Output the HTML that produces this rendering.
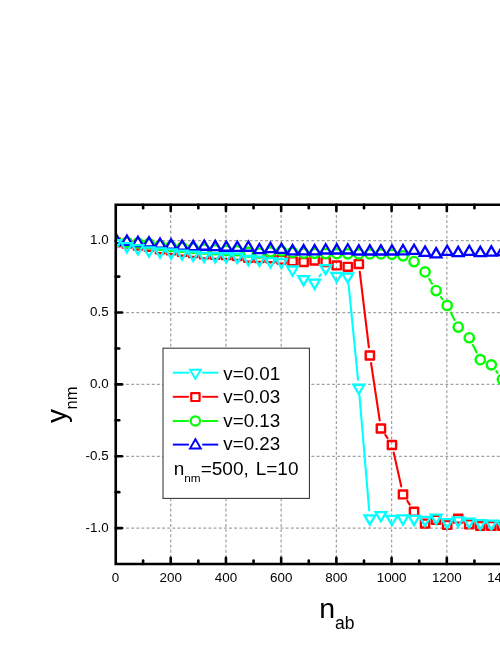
<!DOCTYPE html>
<html><head><meta charset="utf-8"><title>chart</title>
<style>html,body{margin:0;padding:0;background:#fff;}body{width:500px;height:647px;position:relative;overflow:hidden;font-family:"Liberation Sans",sans-serif;}</style></head>
<body>
<svg width="500" height="647" viewBox="0 0 500 647" style="position:absolute;left:0;top:0">
<rect width="500" height="647" fill="#fff"/>
<g stroke="#a2a2a2" stroke-width="1.25" stroke-dasharray="2.9 2.25"><line x1="170.72" y1="204.77" x2="170.72" y2="564.02"/><line x1="225.94" y1="204.77" x2="225.94" y2="564.02"/><line x1="281.16" y1="204.77" x2="281.16" y2="564.02"/><line x1="336.38" y1="204.77" x2="336.38" y2="564.02"/><line x1="391.60" y1="204.77" x2="391.60" y2="564.02"/><line x1="446.82" y1="204.77" x2="446.82" y2="564.02"/><line x1="502.04" y1="204.77" x2="502.04" y2="564.02"/><line x1="115.75" y1="240.70" x2="505" y2="240.70"/><line x1="115.75" y1="312.55" x2="505" y2="312.55"/><line x1="115.75" y1="384.40" x2="505" y2="384.40"/><line x1="115.75" y1="456.25" x2="505" y2="456.25"/><line x1="115.75" y1="528.10" x2="505" y2="528.10"/></g>
<g stroke="#000" stroke-width="2.6" fill="none" stroke-linecap="round">
<path d="M505 204.77H115.75V564.02H505" stroke-linejoin="miter" stroke-linecap="butt"/>
<line x1="143.11" y1="564.02" x2="143.11" y2="560.52"/>
<line x1="143.11" y1="204.77" x2="143.11" y2="208.27"/>
<line x1="170.72" y1="564.02" x2="170.72" y2="557.73"/>
<line x1="170.72" y1="204.77" x2="170.72" y2="211.07"/>
<line x1="198.33" y1="564.02" x2="198.33" y2="560.52"/>
<line x1="198.33" y1="204.77" x2="198.33" y2="208.27"/>
<line x1="225.94" y1="564.02" x2="225.94" y2="557.73"/>
<line x1="225.94" y1="204.77" x2="225.94" y2="211.07"/>
<line x1="253.55" y1="564.02" x2="253.55" y2="560.52"/>
<line x1="253.55" y1="204.77" x2="253.55" y2="208.27"/>
<line x1="281.16" y1="564.02" x2="281.16" y2="557.73"/>
<line x1="281.16" y1="204.77" x2="281.16" y2="211.07"/>
<line x1="308.77" y1="564.02" x2="308.77" y2="560.52"/>
<line x1="308.77" y1="204.77" x2="308.77" y2="208.27"/>
<line x1="336.38" y1="564.02" x2="336.38" y2="557.73"/>
<line x1="336.38" y1="204.77" x2="336.38" y2="211.07"/>
<line x1="363.99" y1="564.02" x2="363.99" y2="560.52"/>
<line x1="363.99" y1="204.77" x2="363.99" y2="208.27"/>
<line x1="391.60" y1="564.02" x2="391.60" y2="557.73"/>
<line x1="391.60" y1="204.77" x2="391.60" y2="211.07"/>
<line x1="419.21" y1="564.02" x2="419.21" y2="560.52"/>
<line x1="419.21" y1="204.77" x2="419.21" y2="208.27"/>
<line x1="446.82" y1="564.02" x2="446.82" y2="557.73"/>
<line x1="446.82" y1="204.77" x2="446.82" y2="211.07"/>
<line x1="474.43" y1="564.02" x2="474.43" y2="560.52"/>
<line x1="474.43" y1="204.77" x2="474.43" y2="208.27"/>
<line x1="502.04" y1="564.02" x2="502.04" y2="557.73"/>
<line x1="502.04" y1="204.77" x2="502.04" y2="211.07"/>
<line x1="115.75" y1="528.10" x2="122.05" y2="528.10"/>
<line x1="115.75" y1="492.17" x2="119.25" y2="492.17"/>
<line x1="115.75" y1="456.25" x2="122.05" y2="456.25"/>
<line x1="115.75" y1="420.32" x2="119.25" y2="420.32"/>
<line x1="115.75" y1="384.40" x2="122.05" y2="384.40"/>
<line x1="115.75" y1="348.47" x2="119.25" y2="348.47"/>
<line x1="115.75" y1="312.55" x2="122.05" y2="312.55"/>
<line x1="115.75" y1="276.62" x2="119.25" y2="276.62"/>
<line x1="115.75" y1="240.70" x2="122.05" y2="240.70"/>
</g>
<clipPath id="c"><rect x="117.0" y="204.77" width="500" height="359.25"/></clipPath>
<g clip-path="url(#c)" stroke-linejoin="miter">
<line x1="359.78" y1="271.78" x2="368.90" y2="347.29" stroke="#ff0000" stroke-width="2.1" stroke-linecap="round"/>
<line x1="371.06" y1="363.14" x2="379.71" y2="420.32" stroke="#ff0000" stroke-width="2.1" stroke-linecap="round"/>
<line x1="385.35" y1="434.88" x2="387.50" y2="438.10" stroke="#ff0000" stroke-width="2.1" stroke-linecap="round"/>
<line x1="393.69" y1="452.56" x2="401.25" y2="486.38" stroke="#ff0000" stroke-width="2.1" stroke-linecap="round"/>
<line x1="407.31" y1="500.92" x2="409.72" y2="504.69" stroke="#ff0000" stroke-width="2.1" stroke-linecap="round"/>
<rect x="111.70" y="238.44" width="8.3" height="7.9" fill="none" stroke="#ff0000" stroke-width="2.4" stroke-linejoin="round"/>
<rect x="122.74" y="239.73" width="8.3" height="7.9" fill="none" stroke="#ff0000" stroke-width="2.4" stroke-linejoin="round"/>
<rect x="133.79" y="241.60" width="8.3" height="7.9" fill="none" stroke="#ff0000" stroke-width="2.4" stroke-linejoin="round"/>
<rect x="144.83" y="242.89" width="8.3" height="7.9" fill="none" stroke="#ff0000" stroke-width="2.4" stroke-linejoin="round"/>
<rect x="155.88" y="245.41" width="8.3" height="7.9" fill="none" stroke="#ff0000" stroke-width="2.4" stroke-linejoin="round"/>
<rect x="166.92" y="246.34" width="8.3" height="7.9" fill="none" stroke="#ff0000" stroke-width="2.4" stroke-linejoin="round"/>
<rect x="177.96" y="247.78" width="8.3" height="7.9" fill="none" stroke="#ff0000" stroke-width="2.4" stroke-linejoin="round"/>
<rect x="189.01" y="249.07" width="8.3" height="7.9" fill="none" stroke="#ff0000" stroke-width="2.4" stroke-linejoin="round"/>
<rect x="200.05" y="250.51" width="8.3" height="7.9" fill="none" stroke="#ff0000" stroke-width="2.4" stroke-linejoin="round"/>
<rect x="211.10" y="250.94" width="8.3" height="7.9" fill="none" stroke="#ff0000" stroke-width="2.4" stroke-linejoin="round"/>
<rect x="222.14" y="251.23" width="8.3" height="7.9" fill="none" stroke="#ff0000" stroke-width="2.4" stroke-linejoin="round"/>
<rect x="233.18" y="252.09" width="8.3" height="7.9" fill="none" stroke="#ff0000" stroke-width="2.4" stroke-linejoin="round"/>
<rect x="244.23" y="253.81" width="8.3" height="7.9" fill="none" stroke="#ff0000" stroke-width="2.4" stroke-linejoin="round"/>
<rect x="255.27" y="254.10" width="8.3" height="7.9" fill="none" stroke="#ff0000" stroke-width="2.4" stroke-linejoin="round"/>
<rect x="266.32" y="254.39" width="8.3" height="7.9" fill="none" stroke="#ff0000" stroke-width="2.4" stroke-linejoin="round"/>
<rect x="277.36" y="255.68" width="8.3" height="7.9" fill="none" stroke="#ff0000" stroke-width="2.4" stroke-linejoin="round"/>
<rect x="288.40" y="257.41" width="8.3" height="7.9" fill="none" stroke="#ff0000" stroke-width="2.4" stroke-linejoin="round"/>
<rect x="299.45" y="258.12" width="8.3" height="7.9" fill="none" stroke="#ff0000" stroke-width="2.4" stroke-linejoin="round"/>
<rect x="310.49" y="256.54" width="8.3" height="7.9" fill="none" stroke="#ff0000" stroke-width="2.4" stroke-linejoin="round"/>
<rect x="321.54" y="258.12" width="8.3" height="7.9" fill="none" stroke="#ff0000" stroke-width="2.4" stroke-linejoin="round"/>
<rect x="332.58" y="261.43" width="8.3" height="7.9" fill="none" stroke="#ff0000" stroke-width="2.4" stroke-linejoin="round"/>
<rect x="343.62" y="262.87" width="8.3" height="7.9" fill="none" stroke="#ff0000" stroke-width="2.4" stroke-linejoin="round"/>
<rect x="354.67" y="260.14" width="8.3" height="7.9" fill="none" stroke="#ff0000" stroke-width="2.4" stroke-linejoin="round"/>
<rect x="365.71" y="351.53" width="8.3" height="7.9" fill="none" stroke="#ff0000" stroke-width="2.4" stroke-linejoin="round"/>
<rect x="376.76" y="424.53" width="8.3" height="7.9" fill="none" stroke="#ff0000" stroke-width="2.4" stroke-linejoin="round"/>
<rect x="387.80" y="441.05" width="8.3" height="7.9" fill="none" stroke="#ff0000" stroke-width="2.4" stroke-linejoin="round"/>
<rect x="398.84" y="490.49" width="8.3" height="7.9" fill="none" stroke="#ff0000" stroke-width="2.4" stroke-linejoin="round"/>
<rect x="409.89" y="507.73" width="8.3" height="7.9" fill="none" stroke="#ff0000" stroke-width="2.4" stroke-linejoin="round"/>
<rect x="420.93" y="519.66" width="8.3" height="7.9" fill="none" stroke="#ff0000" stroke-width="2.4" stroke-linejoin="round"/>
<rect x="431.98" y="515.92" width="8.3" height="7.9" fill="none" stroke="#ff0000" stroke-width="2.4" stroke-linejoin="round"/>
<rect x="443.02" y="520.95" width="8.3" height="7.9" fill="none" stroke="#ff0000" stroke-width="2.4" stroke-linejoin="round"/>
<rect x="454.06" y="514.77" width="8.3" height="7.9" fill="none" stroke="#ff0000" stroke-width="2.4" stroke-linejoin="round"/>
<rect x="465.11" y="520.38" width="8.3" height="7.9" fill="none" stroke="#ff0000" stroke-width="2.4" stroke-linejoin="round"/>
<rect x="476.15" y="521.96" width="8.3" height="7.9" fill="none" stroke="#ff0000" stroke-width="2.4" stroke-linejoin="round"/>
<rect x="487.20" y="521.96" width="8.3" height="7.9" fill="none" stroke="#ff0000" stroke-width="2.4" stroke-linejoin="round"/>
<rect x="498.24" y="521.96" width="8.3" height="7.9" fill="none" stroke="#ff0000" stroke-width="2.4" stroke-linejoin="round"/>
<line x1="429.16" y1="278.83" x2="432.04" y2="283.68" stroke="#00ff00" stroke-width="2.1" stroke-linecap="round"/>
<line x1="440.88" y1="297.00" x2="442.42" y2="299.07" stroke="#00ff00" stroke-width="2.1" stroke-linecap="round"/>
<line x1="450.82" y1="312.63" x2="454.57" y2="319.94" stroke="#00ff00" stroke-width="2.1" stroke-linecap="round"/>
<line x1="472.86" y1="344.91" x2="476.70" y2="352.54" stroke="#00ff00" stroke-width="2.1" stroke-linecap="round"/>
<line x1="496.19" y1="371.22" x2="497.55" y2="373.00" stroke="#00ff00" stroke-width="2.1" stroke-linecap="round"/>
<circle cx="115.85" cy="241.42" r="4.65" fill="#fff" stroke="#00ff00" stroke-width="2.4"/>
<circle cx="126.89" cy="242.28" r="4.65" fill="#fff" stroke="#00ff00" stroke-width="2.4"/>
<circle cx="137.94" cy="243.00" r="4.65" fill="#fff" stroke="#00ff00" stroke-width="2.4"/>
<circle cx="148.98" cy="243.72" r="4.65" fill="#fff" stroke="#00ff00" stroke-width="2.4"/>
<circle cx="160.03" cy="245.30" r="4.65" fill="#fff" stroke="#00ff00" stroke-width="2.4"/>
<circle cx="171.07" cy="246.45" r="4.65" fill="#fff" stroke="#00ff00" stroke-width="2.4"/>
<circle cx="182.11" cy="247.45" r="4.65" fill="#fff" stroke="#00ff00" stroke-width="2.4"/>
<circle cx="193.16" cy="248.32" r="4.65" fill="#fff" stroke="#00ff00" stroke-width="2.4"/>
<circle cx="204.20" cy="249.18" r="4.65" fill="#fff" stroke="#00ff00" stroke-width="2.4"/>
<circle cx="215.25" cy="249.75" r="4.65" fill="#fff" stroke="#00ff00" stroke-width="2.4"/>
<circle cx="226.29" cy="250.33" r="4.65" fill="#fff" stroke="#00ff00" stroke-width="2.4"/>
<circle cx="237.33" cy="250.76" r="4.65" fill="#fff" stroke="#00ff00" stroke-width="2.4"/>
<circle cx="248.38" cy="252.20" r="4.65" fill="#fff" stroke="#00ff00" stroke-width="2.4"/>
<circle cx="259.42" cy="253.06" r="4.65" fill="#fff" stroke="#00ff00" stroke-width="2.4"/>
<circle cx="270.47" cy="251.91" r="4.65" fill="#fff" stroke="#00ff00" stroke-width="2.4"/>
<circle cx="281.51" cy="250.90" r="4.65" fill="#fff" stroke="#00ff00" stroke-width="2.4"/>
<circle cx="292.55" cy="252.48" r="4.65" fill="#fff" stroke="#00ff00" stroke-width="2.4"/>
<circle cx="303.60" cy="253.20" r="4.65" fill="#fff" stroke="#00ff00" stroke-width="2.4"/>
<circle cx="314.64" cy="253.35" r="4.65" fill="#fff" stroke="#00ff00" stroke-width="2.4"/>
<circle cx="325.69" cy="253.49" r="4.65" fill="#fff" stroke="#00ff00" stroke-width="2.4"/>
<circle cx="336.73" cy="253.63" r="4.65" fill="#fff" stroke="#00ff00" stroke-width="2.4"/>
<circle cx="347.77" cy="253.78" r="4.65" fill="#fff" stroke="#00ff00" stroke-width="2.4"/>
<circle cx="358.82" cy="253.92" r="4.65" fill="#fff" stroke="#00ff00" stroke-width="2.4"/>
<circle cx="369.86" cy="253.92" r="4.65" fill="#fff" stroke="#00ff00" stroke-width="2.4"/>
<circle cx="380.91" cy="253.92" r="4.65" fill="#fff" stroke="#00ff00" stroke-width="2.4"/>
<circle cx="391.95" cy="254.35" r="4.65" fill="#fff" stroke="#00ff00" stroke-width="2.4"/>
<circle cx="402.99" cy="255.79" r="4.65" fill="#fff" stroke="#00ff00" stroke-width="2.4"/>
<circle cx="414.04" cy="261.54" r="4.65" fill="#fff" stroke="#00ff00" stroke-width="2.4"/>
<circle cx="425.08" cy="271.95" r="4.65" fill="#fff" stroke="#00ff00" stroke-width="2.4"/>
<circle cx="436.13" cy="290.56" r="4.65" fill="#fff" stroke="#00ff00" stroke-width="2.4"/>
<circle cx="447.17" cy="305.51" r="4.65" fill="#fff" stroke="#00ff00" stroke-width="2.4"/>
<circle cx="458.21" cy="327.06" r="4.65" fill="#fff" stroke="#00ff00" stroke-width="2.4"/>
<circle cx="469.26" cy="337.77" r="4.65" fill="#fff" stroke="#00ff00" stroke-width="2.4"/>
<circle cx="480.30" cy="359.68" r="4.65" fill="#fff" stroke="#00ff00" stroke-width="2.4"/>
<circle cx="491.35" cy="364.86" r="4.65" fill="#fff" stroke="#00ff00" stroke-width="2.4"/>
<circle cx="502.39" cy="379.37" r="4.65" fill="#fff" stroke="#00ff00" stroke-width="2.4"/>
<path d="M110.45 243.15H121.25L115.85 233.90Z" fill="none" stroke="#0000ff" stroke-width="2.3"/>
<path d="M121.49 244.73H132.29L126.89 235.48Z" fill="none" stroke="#0000ff" stroke-width="2.3"/>
<path d="M132.54 246.02H143.34L137.94 236.77Z" fill="none" stroke="#0000ff" stroke-width="2.3"/>
<path d="M143.58 246.45H154.38L148.98 237.20Z" fill="none" stroke="#0000ff" stroke-width="2.3"/>
<path d="M154.63 247.75H165.43L160.03 238.50Z" fill="none" stroke="#0000ff" stroke-width="2.3"/>
<path d="M165.67 248.61H176.47L171.07 239.36Z" fill="none" stroke="#0000ff" stroke-width="2.3"/>
<path d="M176.71 249.76H187.51L182.11 240.51Z" fill="none" stroke="#0000ff" stroke-width="2.3"/>
<path d="M187.76 250.05H198.56L193.16 240.80Z" fill="none" stroke="#0000ff" stroke-width="2.3"/>
<path d="M198.80 249.76H209.60L204.20 240.51Z" fill="none" stroke="#0000ff" stroke-width="2.3"/>
<path d="M209.85 250.05H220.65L215.25 240.80Z" fill="none" stroke="#0000ff" stroke-width="2.3"/>
<path d="M220.89 250.76H231.69L226.29 241.51Z" fill="none" stroke="#0000ff" stroke-width="2.3"/>
<path d="M231.93 250.91H242.73L237.33 241.66Z" fill="none" stroke="#0000ff" stroke-width="2.3"/>
<path d="M242.98 250.76H253.78L248.38 241.51Z" fill="none" stroke="#0000ff" stroke-width="2.3"/>
<path d="M254.02 253.21H264.82L259.42 243.96Z" fill="none" stroke="#0000ff" stroke-width="2.3"/>
<path d="M265.07 252.06H275.87L270.47 242.81Z" fill="none" stroke="#0000ff" stroke-width="2.3"/>
<path d="M276.11 252.92H286.91L281.51 243.67Z" fill="none" stroke="#0000ff" stroke-width="2.3"/>
<path d="M287.15 254.36H297.95L292.55 245.11Z" fill="none" stroke="#0000ff" stroke-width="2.3"/>
<path d="M298.20 254.36H309.00L303.60 245.11Z" fill="none" stroke="#0000ff" stroke-width="2.3"/>
<path d="M309.24 254.36H320.04L314.64 245.11Z" fill="none" stroke="#0000ff" stroke-width="2.3"/>
<path d="M320.29 253.49H331.09L325.69 244.24Z" fill="none" stroke="#0000ff" stroke-width="2.3"/>
<path d="M331.33 253.49H342.13L336.73 244.24Z" fill="none" stroke="#0000ff" stroke-width="2.3"/>
<path d="M342.37 253.49H353.17L347.77 244.24Z" fill="none" stroke="#0000ff" stroke-width="2.3"/>
<path d="M353.42 254.50H364.22L358.82 245.25Z" fill="none" stroke="#0000ff" stroke-width="2.3"/>
<path d="M364.46 254.50H375.26L369.86 245.25Z" fill="none" stroke="#0000ff" stroke-width="2.3"/>
<path d="M375.51 254.50H386.31L380.91 245.25Z" fill="none" stroke="#0000ff" stroke-width="2.3"/>
<path d="M386.55 254.50H397.35L391.95 245.25Z" fill="none" stroke="#0000ff" stroke-width="2.3"/>
<path d="M397.59 254.28H408.39L402.99 245.03Z" fill="none" stroke="#0000ff" stroke-width="2.3"/>
<path d="M408.64 253.93H419.44L414.04 244.68Z" fill="none" stroke="#0000ff" stroke-width="2.3"/>
<path d="M419.68 255.79H430.48L425.08 246.54Z" fill="none" stroke="#0000ff" stroke-width="2.3"/>
<path d="M430.73 257.37H441.53L436.13 248.12Z" fill="none" stroke="#0000ff" stroke-width="2.3"/>
<path d="M441.77 254.93H452.57L447.17 245.68Z" fill="none" stroke="#0000ff" stroke-width="2.3"/>
<path d="M452.81 256.08H463.61L458.21 246.83Z" fill="none" stroke="#0000ff" stroke-width="2.3"/>
<path d="M463.86 254.93H474.66L469.26 245.68Z" fill="none" stroke="#0000ff" stroke-width="2.3"/>
<path d="M474.90 256.08H485.70L480.30 246.83Z" fill="none" stroke="#0000ff" stroke-width="2.3"/>
<path d="M485.95 255.65H496.75L491.35 246.40Z" fill="none" stroke="#0000ff" stroke-width="2.3"/>
<path d="M496.99 255.22H507.79L502.39 245.97Z" fill="none" stroke="#0000ff" stroke-width="2.3"/>
<line x1="319.46" y1="276.27" x2="320.87" y2="274.39" stroke="#00ffff" stroke-width="2.1" stroke-linecap="round"/>
<line x1="348.56" y1="284.44" x2="358.03" y2="379.74" stroke="#00ffff" stroke-width="2.1" stroke-linecap="round"/>
<line x1="359.49" y1="395.68" x2="369.19" y2="510.36" stroke="#00ffff" stroke-width="2.1" stroke-linecap="round"/>
<path d="M110.45 240.04H121.25L115.85 249.29Z" fill="none" stroke="#00ffff" stroke-width="2.3"/>
<path d="M121.49 243.20H132.29L126.89 252.45Z" fill="none" stroke="#00ffff" stroke-width="2.3"/>
<path d="M132.54 245.21H143.34L137.94 254.46Z" fill="none" stroke="#00ffff" stroke-width="2.3"/>
<path d="M143.58 247.37H154.38L148.98 256.62Z" fill="none" stroke="#00ffff" stroke-width="2.3"/>
<path d="M154.63 248.37H165.43L160.03 257.62Z" fill="none" stroke="#00ffff" stroke-width="2.3"/>
<path d="M165.67 249.38H176.47L171.07 258.63Z" fill="none" stroke="#00ffff" stroke-width="2.3"/>
<path d="M176.71 250.53H187.51L182.11 259.78Z" fill="none" stroke="#00ffff" stroke-width="2.3"/>
<path d="M187.76 251.68H198.56L193.16 260.93Z" fill="none" stroke="#00ffff" stroke-width="2.3"/>
<path d="M198.80 252.83H209.60L204.20 262.08Z" fill="none" stroke="#00ffff" stroke-width="2.3"/>
<path d="M209.85 253.12H220.65L215.25 262.37Z" fill="none" stroke="#00ffff" stroke-width="2.3"/>
<path d="M220.89 253.26H231.69L226.29 262.51Z" fill="none" stroke="#00ffff" stroke-width="2.3"/>
<path d="M231.93 253.69H242.73L237.33 262.94Z" fill="none" stroke="#00ffff" stroke-width="2.3"/>
<path d="M242.98 255.99H253.78L248.38 265.24Z" fill="none" stroke="#00ffff" stroke-width="2.3"/>
<path d="M254.02 256.71H264.82L259.42 265.96Z" fill="none" stroke="#00ffff" stroke-width="2.3"/>
<path d="M265.07 258.15H275.87L270.47 267.40Z" fill="none" stroke="#00ffff" stroke-width="2.3"/>
<path d="M276.11 259.01H286.91L281.51 268.26Z" fill="none" stroke="#00ffff" stroke-width="2.3"/>
<path d="M287.15 266.48H297.95L292.55 275.73Z" fill="none" stroke="#00ffff" stroke-width="2.3"/>
<path d="M298.20 276.11H309.00L303.60 285.36Z" fill="none" stroke="#00ffff" stroke-width="2.3"/>
<path d="M309.24 279.70H320.04L314.64 288.95Z" fill="none" stroke="#00ffff" stroke-width="2.3"/>
<path d="M320.29 265.04H331.09L325.69 274.29Z" fill="none" stroke="#00ffff" stroke-width="2.3"/>
<path d="M331.33 272.80H342.13L336.73 282.05Z" fill="none" stroke="#00ffff" stroke-width="2.3"/>
<path d="M342.37 273.52H353.17L347.77 282.77Z" fill="none" stroke="#00ffff" stroke-width="2.3"/>
<path d="M353.42 384.75H364.22L358.82 394.00Z" fill="none" stroke="#00ffff" stroke-width="2.3"/>
<path d="M364.46 515.37H375.26L369.86 524.62Z" fill="none" stroke="#00ffff" stroke-width="2.3"/>
<path d="M375.51 512.06H386.31L380.91 521.31Z" fill="none" stroke="#00ffff" stroke-width="2.3"/>
<path d="M386.55 515.80H397.35L391.95 525.05Z" fill="none" stroke="#00ffff" stroke-width="2.3"/>
<path d="M397.59 515.37H408.39L402.99 524.62Z" fill="none" stroke="#00ffff" stroke-width="2.3"/>
<path d="M408.64 515.94H419.44L414.04 525.19Z" fill="none" stroke="#00ffff" stroke-width="2.3"/>
<path d="M419.68 516.81H430.48L425.08 526.06Z" fill="none" stroke="#00ffff" stroke-width="2.3"/>
<path d="M430.73 514.65H441.53L436.13 523.90Z" fill="none" stroke="#00ffff" stroke-width="2.3"/>
<path d="M441.77 519.10H452.57L447.17 528.35Z" fill="none" stroke="#00ffff" stroke-width="2.3"/>
<path d="M452.81 517.38H463.61L458.21 526.63Z" fill="none" stroke="#00ffff" stroke-width="2.3"/>
<path d="M463.86 518.53H474.66L469.26 527.78Z" fill="none" stroke="#00ffff" stroke-width="2.3"/>
<path d="M474.90 520.11H485.70L480.30 529.36Z" fill="none" stroke="#00ffff" stroke-width="2.3"/>
<path d="M485.95 520.54H496.75L491.35 529.79Z" fill="none" stroke="#00ffff" stroke-width="2.3"/>
<path d="M496.99 520.83H507.79L502.39 530.08Z" fill="none" stroke="#00ffff" stroke-width="2.3"/>
</g>
<rect x="163.0" y="348.2" width="146.45" height="150.2" fill="#fff" stroke="#3c3c3c" stroke-width="1.1"/>
<line x1="172.8" y1="372.7" x2="188.9" y2="372.7" stroke="#00ffff" stroke-width="1.9"/>
<line x1="202.2" y1="372.7" x2="218.2" y2="372.7" stroke="#00ffff" stroke-width="1.9"/>
<path d="M190.00 369.74H200.80L195.40 378.99Z" fill="none" stroke="#00ffff" stroke-width="1.9"/>
<line x1="172.8" y1="396.8" x2="188.9" y2="396.8" stroke="#ff0000" stroke-width="1.9"/>
<line x1="202.2" y1="396.8" x2="218.2" y2="396.8" stroke="#ff0000" stroke-width="1.9"/>
<rect x="191.25" y="393.10" width="8.3" height="7.9" fill="none" stroke="#ff0000" stroke-width="2.2" stroke-linejoin="round"/>
<line x1="172.8" y1="421.0" x2="188.9" y2="421.0" stroke="#00ff00" stroke-width="1.9"/>
<line x1="202.2" y1="421.0" x2="218.2" y2="421.0" stroke="#00ff00" stroke-width="1.9"/>
<circle cx="195.40" cy="421.00" r="4.65" fill="#fff" stroke="#00ff00" stroke-width="2.2"/>
<line x1="172.8" y1="444.6" x2="188.9" y2="444.6" stroke="#0000ff" stroke-width="1.9"/>
<line x1="202.2" y1="444.6" x2="218.2" y2="444.6" stroke="#0000ff" stroke-width="1.9"/>
<path d="M190.00 448.49H200.80L195.40 439.24Z" fill="none" stroke="#0000ff" stroke-width="1.9"/>
</svg>
<svg width="500" height="647" viewBox="0 0 500 647" style="position:absolute;left:0;top:0;will-change:transform">
<g font-family="Liberation Sans, sans-serif" font-size="13.4" fill="#000">
<text x="115.50" y="582" text-anchor="middle">0</text>
<text x="170.72" y="582" text-anchor="middle">200</text>
<text x="225.94" y="582" text-anchor="middle">400</text>
<text x="281.16" y="582" text-anchor="middle">600</text>
<text x="336.38" y="582" text-anchor="middle">800</text>
<text x="391.60" y="582" text-anchor="middle">1000</text>
<text x="446.82" y="582" text-anchor="middle">1200</text>
<text x="502.04" y="582" text-anchor="middle">1400</text>
<text x="108.6" y="244.40" text-anchor="end">1.0</text>
<text x="108.6" y="316.25" text-anchor="end">0.5</text>
<text x="108.6" y="388.10" text-anchor="end">0.0</text>
<text x="108.6" y="459.95" text-anchor="end">-0.5</text>
<text x="108.6" y="531.80" text-anchor="end">-1.0</text>
</g>
<g font-family="Liberation Sans, sans-serif" fill="#000">
<text x="319.2" y="617.5" font-size="28.5">n<tspan font-size="17.5" dx="-0.1" dy="11.4">ab</tspan></text>
<text transform="translate(65.6 423) rotate(-90)" font-size="28">y<tspan font-size="16.5" dx="-0.5" dy="11.3">nm</tspan></text>
</g>
<text x="223.3" y="379.8" font-family="Liberation Sans, sans-serif" font-size="18.8" fill="#000">v=0.01</text>
<text x="223.3" y="403.2" font-family="Liberation Sans, sans-serif" font-size="18.8" fill="#000">v=0.03</text>
<text x="223.3" y="426.7" font-family="Liberation Sans, sans-serif" font-size="18.8" fill="#000">v=0.13</text>
<text x="223.3" y="450.3" font-family="Liberation Sans, sans-serif" font-size="18.8" fill="#000">v=0.23</text>
<text y="475.1" font-family="Liberation Sans, sans-serif" font-size="19" fill="#000"><tspan x="173.8">n</tspan><tspan x="184.3" y="482.3" font-size="11.8">nm</tspan><tspan x="200.7" y="475.1">=500,</tspan><tspan x="255.7">L=10</tspan></text>
</svg>
</body></html>
